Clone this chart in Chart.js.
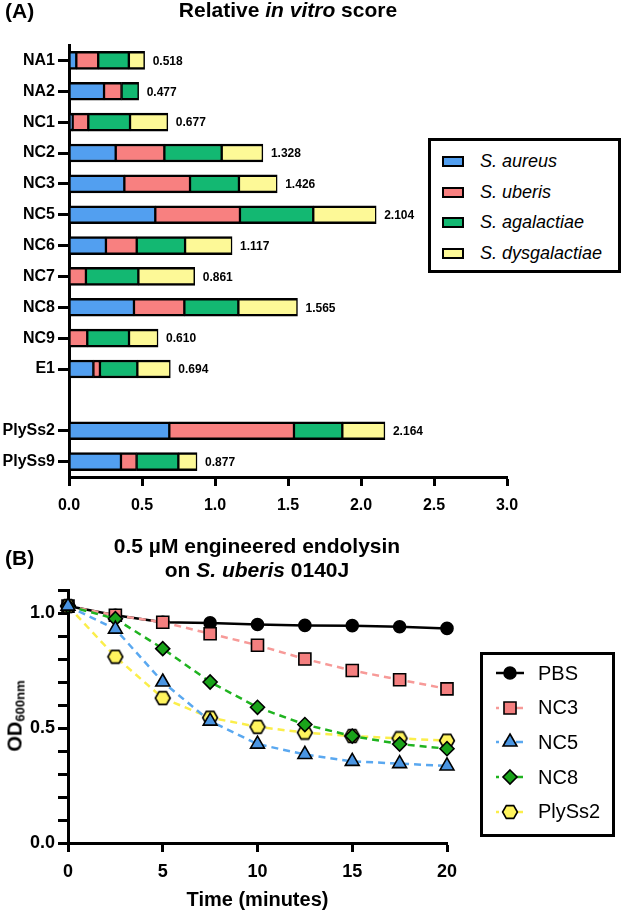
<!DOCTYPE html>
<html lang="en">

<head>
    <meta charset="UTF-8">
    <title>Relative in vitro score / lysis</title>
    <script src="https://cdn.jsdelivr.net/npm/chart.js"></script>
    <style>
        body { margin: 0; background: #fff; color: #000; font-family: "Liberation Sans", Arial, sans-serif; }
        .pagina { position: relative; width: 623px; height: 912px; overflow: hidden; }
        .pagina > canvas { position: absolute; left: 0; }
        #graficoEscore { top: 0; }
        #graficoLise { top: 520px; }
        .painel { position: absolute; left: 5px; font-size: 21px; font-weight: bold; line-height: 24px; }
        .titulo { position: absolute; font-size: 21px; font-weight: bold; line-height: 24px; text-align: center; white-space: nowrap; transform: translateX(-50%); }
        .legenda { position: absolute; box-sizing: border-box; border: 3px solid #000; background: #fff; }
        .legenda .item { display: flex; align-items: center; white-space: nowrap; }
        #legendaEscore { left: 428px; top: 138px; width: 193px; height: 135px; padding: 5px 0 0 11px; }
        #legendaEscore .item { height: 30.7px; font-size: 18px; font-style: italic; }
        .amostra { width: 22px; height: 11px; box-sizing: border-box; border: 2px solid #000; margin-right: 16px; }
        #legendaLise { left: 480px; top: 652px; width: 135px; height: 185px; padding: 1px 0 0 12px; }
        #legendaLise .item { height: 34.6px; font-size: 20px; }
        #legendaLise canvas { margin-right: 13px; }
        #tituloY { position: absolute; left: 15px; top: 716px; font-size: 20px; font-weight: bold; white-space: nowrap; transform: translate(-50%, -50%) rotate(-90deg); }
        #tituloY sub { font-size: 13px; vertical-align: baseline; position: relative; top: 3px; }
    </style>
</head>

<body>
    <div class="pagina">
        <canvas id="graficoEscore" width="623" height="520"></canvas>
        <canvas id="graficoLise" width="623" height="392"></canvas>

        <div class="painel" style="top: -1px">(A)</div>
        <div class="titulo" style="left: 288px; top: -2px">Relative <i>in vitro</i> score</div>
        <div id="legendaEscore" class="legenda"></div>

        <div class="painel" style="top: 546px">(B)</div>
        <div class="titulo" style="left: 257px; top: 534px">0.5 µM engineered endolysin<br>on <i>S. uberis</i> 0140J</div>
        <div id="tituloY">OD<sub>600nm</sub></div>
        <div id="legendaLise" class="legenda"></div>
    </div>
</body>

</html>
<script>
    // (A) relative in vitro score, one stacked bar per enzyme
    const categorias = ['NA1', 'NA2', 'NC1', 'NC2', 'NC3', 'NC5', 'NC6', 'NC7', 'NC8', 'NC9', 'E1', '', 'PlySs2', 'PlySs9'];
    const especies = ['S. aureus', 'S. uberis', 'S. agalactiae', 'S. dysgalactiae'];
    const aureus = [0.050, 0.240, 0.025, 0.320, 0.379, 0.591, 0.253, 0, 0.445, 0, 0.167, null, 0.687, 0.356];
    const uberis = [0.150, 0.120, 0.107, 0.333, 0.450, 0.580, 0.211, 0.116, 0.345, 0.125, 0.045, null, 0.854, 0.107];
    const agalactiae = [0.210, 0.117, 0.286, 0.393, 0.335, 0.502, 0.331, 0.359, 0.370, 0.286, 0.256, null, 0.331, 0.286];
    const dysgalactiae = [0.108, 0, 0.259, 0.282, 0.262, 0.431, 0.322, 0.386, 0.405, 0.199, 0.226, null, 0.292, 0.128];
    const totais = [0.518, 0.477, 0.677, 1.328, 1.426, 2.104, 1.117, 0.861, 1.565, 0.610, 0.694, null, 2.164, 0.877];
    const ticksEscore = [0, 0.5, 1.0, 1.5, 2.0, 2.5, 3.0];

    // (B) OD600 over time
    const series = ['PBS', 'NC3', 'NC5', 'NC8', 'PlySs2'];
    const tempos = [0, 2.5, 5, 7.5, 10, 12.5, 15, 17.5, 20];
    const pbs = [1.03, 0.99, 0.96, 0.957, 0.95, 0.946, 0.945, 0.94, 0.933];
    const nc3 = [1.03, 0.99, 0.96, 0.91, 0.86, 0.80, 0.75, 0.71, 0.67];
    const nc5 = [1.03, 0.93, 0.70, 0.53, 0.43, 0.385, 0.355, 0.345, 0.335];
    const nc8 = [1.03, 0.975, 0.845, 0.70, 0.59, 0.515, 0.465, 0.43, 0.41];
    const plyss2 = [1.03, 0.81, 0.63, 0.545, 0.505, 0.48, 0.465, 0.455, 0.445];
    const ticksTempo = [0, 5, 10, 15, 20];
    const ticksOD = [0, 0.1, 0.2, 0.3, 0.4, 0.5, 0.6, 0.7, 0.8, 0.9, 1.0, 1.1];
    const rotulosOD = [0, 0.5, 1.0];

    const coresEspecies = ['#529ff0', '#f88080', '#13b872', '#fdf997'];
    const coresLinha = ['#000000', '#f79a98', '#5aa8f0', '#1fb31f', '#fbee4a'];
    const coresMarcador = ['#000000', '#f47f7f', '#4a95e2', '#1aa31a', '#fff45e'];
    const raios = [6, 8.5, 8, 7, 7.5];
    const ordem = [4, 3, 0, 1, 2];

    const fonte = '"Liberation Sans", Arial, sans-serif';
    Chart.defaults.font.family = fonte;
    Chart.defaults.color = '#000';

    window.onload = () => { plotarGraficoEscore(), plotarGraficoLise(), montarLegendas() }

    const rotulosTotais = {
        id: 'rotulosTotais',
        afterDatasetsDraw(chart) {
            var ctx = chart.ctx;
            var x = chart.scales.x, y = chart.scales.y;
            ctx.save();
            ctx.font = 'bold 12px ' + fonte;
            ctx.fillStyle = '#000';
            ctx.textBaseline = 'middle';
            totais.forEach(function (t, i) {
                if (t == null) return;
                ctx.fillText(t.toFixed(3), x.getPixelForValue(t) + 8, y.getPixelForValue(i) + 1);
            });
            ctx.restore();
        }
    };

    function criarHexagono(cor) {
        var c = document.createElement('canvas');
        c.width = 18; c.height = 16;
        var ctx = c.getContext('2d');
        var R = 7.4;
        ctx.beginPath();
        for (var k = 0; k < 6; k++) {
            var a = Math.PI / 3 * k;
            var px = 9 + R * Math.cos(a), py = 8 + R * Math.sin(a);
            if (k) ctx.lineTo(px, py); else ctx.moveTo(px, py);
        }
        ctx.closePath();
        ctx.fillStyle = cor;
        ctx.fill();
        ctx.lineWidth = 1.6;
        ctx.strokeStyle = '#000';
        ctx.stroke();
        return c;
    }

    const hexagono = criarHexagono(coresMarcador[4]);
    const estilos = ['circle', 'rect', 'triangle', 'rectRot', hexagono];

    function plotarGraficoEscore() {
        var valores = [aureus, uberis, agalactiae, dysgalactiae];
        var dados = {
            labels: categorias,
            datasets: especies.map(function (nome, i) {
                return {
                    label: nome,
                    data: valores[i],
                    backgroundColor: coresEspecies[i],
                    borderColor: '#000',
                    borderWidth: { top: 2.5, bottom: 2.5, left: 1.5, right: 1.5 },
                    borderSkipped: false,
                    barThickness: 18
                };
            })
        };

        var ctx = document.getElementById('graficoEscore').getContext('2d');
        window.graficoEscore = new Chart(ctx, {
            type: 'bar',
            data: dados,
            options: {
                indexAxis: 'y',
                responsive: false,
                animation: false,
                layout: { padding: { top: 45, right: 116, bottom: 0, left: 0 } },
                plugins: { legend: { display: false }, tooltip: { enabled: false } },
                scales: {
                    x: {
                        type: 'linear',
                        stacked: true,
                        min: 0,
                        max: 3,
                        afterBuildTicks: s => { s.ticks = ticksEscore.map(v => ({ value: v })); },
                        afterFit: s => { s.height = 43; },
                        border: { color: '#000', width: 3 },
                        grid: { drawOnChartArea: false, tickLength: 9, tickWidth: 3, tickColor: '#000' },
                        ticks: { font: { size: 16, weight: 'bold' }, padding: 10, callback: v => v.toFixed(1) }
                    },
                    y: {
                        stacked: true,
                        afterFit: s => { s.width = 69; },
                        border: { color: '#000', width: 3 },
                        grid: {
                            offset: false,
                            drawOnChartArea: false,
                            tickLength: 11,
                            tickWidth: 3,
                            tickColor: c => categorias[c.index] ? '#000' : 'rgba(0,0,0,0)'
                        },
                        ticks: { font: { size: 16, weight: 'bold' }, padding: 3, autoSkip: false }
                    }
                }
            },
            plugins: [rotulosTotais]
        });
    }

    function plotarGraficoLise() {
        var valores = [pbs, nc3, nc5, nc8, plyss2];
        var dados = {
            datasets: series.map(function (nome, i) {
                return {
                    label: nome,
                    data: tempos.map((t, k) => ({ x: t, y: valores[i][k] })),
                    borderColor: coresLinha[i],
                    borderWidth: 2.5,
                    borderDash: i ? [7, 5] : [],
                    pointStyle: estilos[i],
                    pointRadius: raios[i],
                    pointBackgroundColor: coresMarcador[i],
                    pointBorderColor: '#000',
                    pointBorderWidth: 1.6,
                    tension: 0,
                    fill: false,
                    clip: false,
                    order: ordem[i]
                };
            })
        };

        var ctx = document.getElementById('graficoLise').getContext('2d');
        window.graficoLise = new Chart(ctx, {
            type: 'line',
            data: dados,
            options: {
                responsive: false,
                animation: false,
                layout: { padding: { top: 70, right: 176, bottom: 0, left: 0 } },
                plugins: { legend: { display: false }, tooltip: { enabled: false } },
                scales: {
                    x: {
                        type: 'linear',
                        min: 0,
                        max: 20,
                        afterBuildTicks: s => { s.ticks = ticksTempo.map(v => ({ value: v })); },
                        afterFit: s => { s.height = 69; },
                        border: { color: '#000', width: 3 },
                        grid: { drawOnChartArea: false, tickLength: 9, tickWidth: 3, tickColor: '#000' },
                        ticks: { font: { size: 18, weight: 'bold' }, padding: 9 },
                        title: { display: true, text: 'Time (minutes)', font: { size: 20, weight: 'bold' }, padding: 0 }
                    },
                    y: {
                        min: 0,
                        max: 1.1,
                        afterBuildTicks: s => { s.ticks = ticksOD.map(v => ({ value: v })); },
                        afterFit: s => { s.width = 68; },
                        border: { color: '#000', width: 3 },
                        grid: { drawOnChartArea: false, tickLength: 10, tickWidth: 3, tickColor: '#000' },
                        ticks: {
                            font: { size: 18, weight: 'bold' },
                            padding: 3,
                            autoSkip: false,
                            callback: v => rotulosOD.includes(v) ? v.toFixed(1) : ''
                        }
                    }
                }
            }
        });
    }

    function desenharMarcador(ctx, i, x, y) {
        var estilo = estilos[i], r = raios[i];
        if (estilo instanceof HTMLCanvasElement) {
            ctx.drawImage(estilo, x - estilo.width / 2, y - estilo.height / 2);
            return;
        }
        ctx.beginPath();
        if (estilo === 'circle') {
            ctx.arc(x, y, r, 0, Math.PI * 2);
        } else if (estilo === 'rect') {
            var s = r * Math.SQRT1_2;
            ctx.rect(x - s, y - s, 2 * s, 2 * s);
        } else if (estilo === 'triangle') {
            for (var k = 0; k < 3; k++) {
                var a = k * 2 * Math.PI / 3;
                ctx.lineTo(x + Math.sin(a) * r, y - Math.cos(a) * r);
            }
        } else {
            ctx.moveTo(x, y - r); ctx.lineTo(x + r, y); ctx.lineTo(x, y + r); ctx.lineTo(x - r, y);
        }
        ctx.closePath();
        ctx.fillStyle = coresMarcador[i];
        ctx.fill();
        ctx.lineWidth = 1.6;
        ctx.strokeStyle = '#000';
        ctx.stroke();
    }

    function montarLegendas() {
        var legendaA = document.getElementById('legendaEscore');
        especies.forEach(function (nome, i) {
            var item = document.createElement('div');
            item.className = 'item';
            var amostra = document.createElement('span');
            amostra.className = 'amostra';
            amostra.style.background = coresEspecies[i];
            var texto = document.createElement('span');
            texto.textContent = nome;
            item.append(amostra, texto);
            legendaA.appendChild(item);
        });

        var legendaB = document.getElementById('legendaLise');
        series.forEach(function (nome, i) {
            var item = document.createElement('div');
            item.className = 'item';
            var c = document.createElement('canvas');
            c.width = 30; c.height = 20;
            var ctx = c.getContext('2d');
            ctx.strokeStyle = coresLinha[i];
            ctx.lineWidth = 2.5;
            ctx.setLineDash(i ? [7, 5] : []);
            ctx.lineDashOffset = 4;
            ctx.beginPath();
            ctx.moveTo(1, 10); ctx.lineTo(29, 10);
            ctx.stroke();
            ctx.setLineDash([]);
            desenharMarcador(ctx, i, 15, 10);
            var texto = document.createElement('span');
            texto.textContent = nome;
            item.append(c, texto);
            legendaB.appendChild(item);
        });
    }
</script>
